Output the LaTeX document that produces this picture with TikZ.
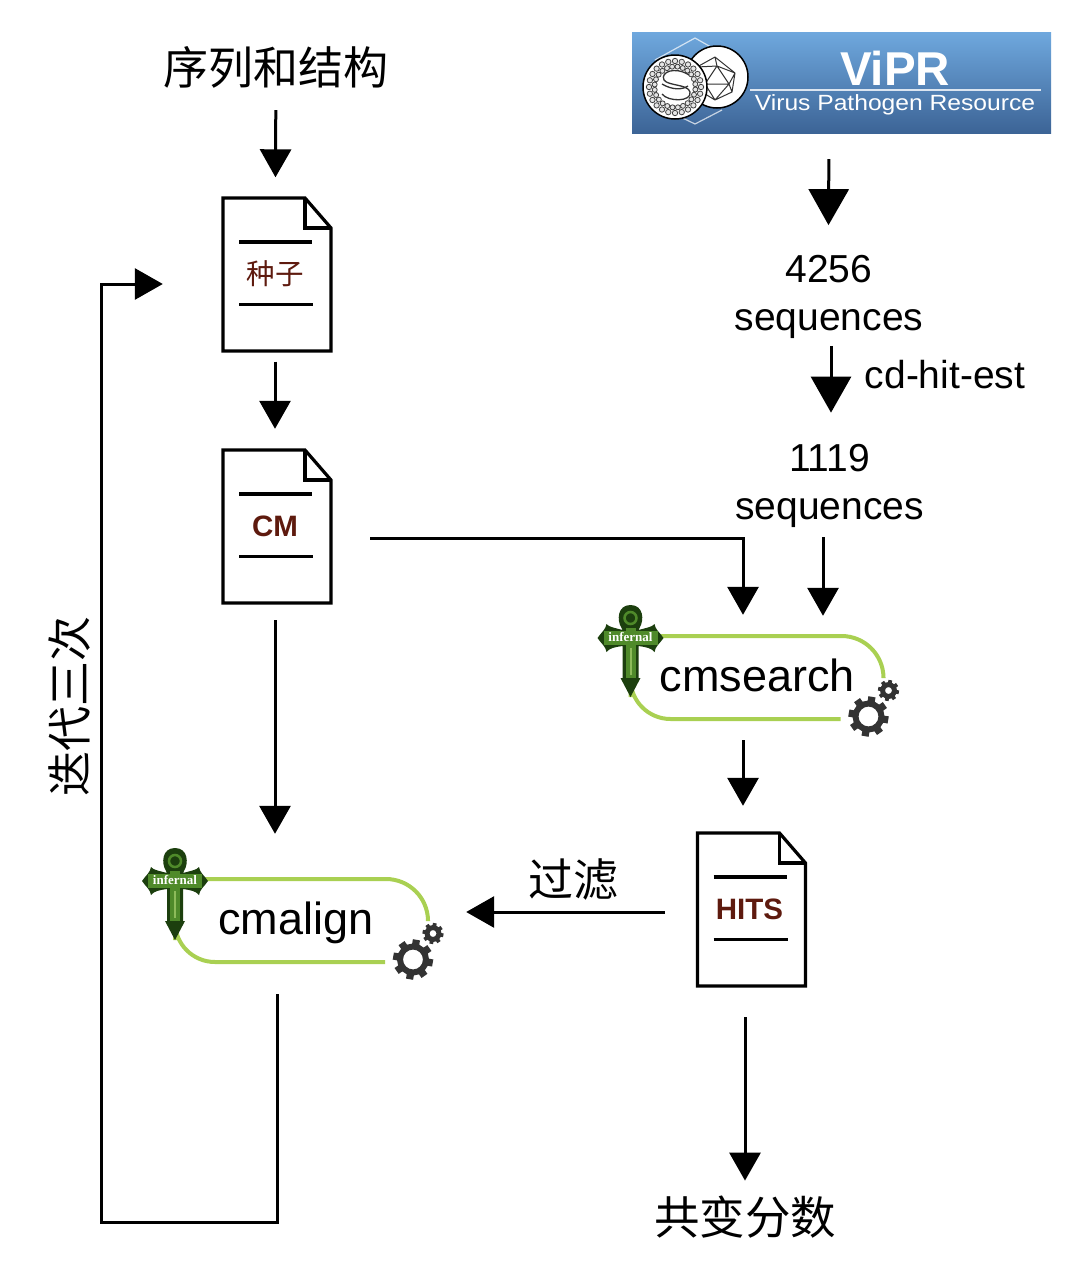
\documentclass[tikz,border=0pt]{standalone}
\usepackage{fontspec}
\setmainfont{Liberation Sans}
\newfontfamily\cjk{Noto Sans CJK SC}
\newfontfamily\serifsmall{Liberation Serif}
\usetikzlibrary{arrows.meta,positioning,calc}

\definecolor{seedred}{HTML}{5E1A0E}
\definecolor{toolgreen}{HTML}{A9D052}
\definecolor{gearcol}{HTML}{333333}
\definecolor{crossdark}{HTML}{1C3F0E}
\definecolor{crossmid}{HTML}{4F8A2A}
\definecolor{crosslight}{HTML}{8DBB5A}
\definecolor{viprtop}{HTML}{6FA8DE}
\definecolor{viprbot}{HTML}{3C6496}

\tikzset{
  flow/.style={->,line width=3pt},
  bigflow/.style={-{Triangle[length=36pt,width=40pt]},line width=3pt},
  plain/.style={inner sep=0pt,font=\fontsize{39}{48}\selectfont,align=center},
  zhtext/.style={inner sep=0pt,font=\cjk\fontsize{45}{48}\selectfont},
  docbox/.style={inner sep=0pt,minimum width=104pt,minimum height=153pt,text=seedred,font=\bfseries\fontsize{29.5}{32}\selectfont},
  toolbox/.style={inner sep=0pt,minimum width=253pt,minimum height=84pt,text height=33pt,text depth=6pt,font=\fontsize{45}{48}\selectfont},
  pics/docpage/.style={code={
    \draw[line width=3.2pt,fill=white,line join=miter] (-52,-76.5) -- (30,-76.5) -- (56,-46.5) -- (56,76.5) -- (-52,76.5) -- cycle;
    \draw[line width=3.2pt] (30,-76.5) -- (30,-46.5) -- (56,-46.5);
    \draw[line width=3.2pt] (-36,-32.5) -- (37,-32.5);
    \draw[line width=3.2pt] (-36,30) -- (38,30);
  }},
  pics/gearwheel/.style 2 args={code={
    \foreach \a in {0,45,...,315}
      \draw[gearcol,line width=#1*0.36pt] (\a+10:#1*0.65) -- (\a+10:#1);
    \draw[gearcol,line width=#2pt] (0,0) circle[radius=#1*0.8pt-#2*0.5pt];
  }},
  pics/toolframe/.style={code={
    \draw[toolgreen,line width=4pt,rounded corners=42pt] (-97,-42) -- (126,-42) -- (126,-1);
    \draw[toolgreen,line width=4pt,rounded corners=40pt] (-127,19) -- (-127,41) -- (83,41);
    % cross
    \fill[crossdark] (-127,-73) .. controls (-140,-73) and (-141,-58) .. (-136,-50) -- (-135,-48)
      .. controls (-142,-50) and (-149,-51) .. (-151,-54) .. controls (-152,-48) and (-156,-46) .. (-160,-40)
      .. controls (-156,-34) and (-152,-32) .. (-151,-26) .. controls (-148,-30) and (-142,-31) .. (-135,-32)
      -- (-135,0) -- (-137,0) -- (-127,19) -- (-117,0) -- (-119,0) -- (-119,-32)
      .. controls (-112,-31) and (-106,-30) .. (-103,-26) .. controls (-102,-32) and (-98,-34) .. (-94,-40)
      .. controls (-98,-46) and (-102,-48) .. (-103,-54) .. controls (-105,-51) and (-112,-50) .. (-119,-48)
      -- (-118,-50) .. controls (-113,-58) and (-114,-73) .. (-127,-73) -- cycle;
    \fill[crossmid] (-132,-50) -- (-132,0) -- (-122,0) -- (-122,-50) -- cycle;
    \fill[crossmid] (-154,-47) -- (-100,-47) -- (-100,-33) -- (-154,-33) -- cycle;
    \fill[crosslight] (-128,-30) -- (-128,-3) -- (-126,-3) -- (-126,-30) -- cycle;
    \draw[crossmid,line width=2.5pt] (-127,-60) circle[radius=6pt];
    \node[inner sep=0pt,text=white,font=\serifsmall\bfseries\fontsize{13}{14}\selectfont] (infernal) at (-127,-41) {infernal};
    % gears
    \pic at (111,38.5) {gearwheel={20}{6}};
    \pic at (131,12.5) {gearwheel={10.5}{5}};
  }},
}

\begin{document}
\begin{tikzpicture}[x=1pt,y=-1pt,>={Triangle[length=28pt,width=31pt]}]
  \useasboundingbox (0,0) rectangle (1068,1264);

  % left column
  \node[zhtext] (seqstruct) at (276,67) {序列和结构};
  \pic at (275,274.5) {docpage};
  \node[docbox,font=\cjk\fontsize{28.5}{30}\selectfont] (seeddoc) at (275,274) {种子};
  \pic at (275,526.5) {docpage};
  \node[docbox] (cmdoc) at (275,526.5) {CM};
  \pic at (302,921) {toolframe};
  \node[toolbox,xshift=-6pt] (cmalign) at (302,921) {cmalign};

  % right column
  \node[minimum width=419pt,minimum height=101pt,inner sep=0pt,top color=viprtop,bottom color=viprbot] (vipr) at (841.5,82.5) {};
  \draw[white,opacity=.7,line width=1.2pt] (695,38) -- (655,60) (695,38) -- (725,55) (695,124) -- (670,112) (695,124) -- (722,110);
  \draw[line width=1.5pt,fill=white] (717,77) circle[radius=31pt];
  \draw[black!80,line width=1pt,line join=round] (715,57) -- (735,73) -- (732,92) -- (715,100) -- (697,89) -- (697,67) -- cycle
    (717,66) -- (729,84) -- (705,84) -- cycle
    (715,57) -- (717,66) -- (697,67) (717,66) -- (735,73) (729,84) -- (735,73) (729,84) -- (732,92) (729,84) -- (715,100) (705,84) -- (715,100) (705,84) -- (697,89) (705,84) -- (697,67);
  \draw[line width=1.5pt,fill=white] (675,87) circle[radius=32pt];
  \foreach \a in {0,15,...,345} \draw[black!75,line width=.8pt,fill=black!10] (675,87) ++(\a:26) circle[radius=2.7pt];
  \foreach \a in {7,22,...,352} \draw[black!75,line width=.8pt,fill=black!10] (675,87) ++(\a:20.5) circle[radius=2.5pt];
  \draw[black!80,line width=1.3pt] (689,75) .. controls (675,66) and (660,72) .. (664,80) .. controls (668,86) and (688,84) .. (690,92) .. controls (692,102) and (668,102) .. (662,94);
  \draw[black!80,line width=1.3pt] (662,84) .. controls (672,90) and (682,90) .. (688,86);
  \node[inner sep=0pt,anchor=base,text=white,font=\bfseries\fontsize{47.5}{50}\selectfont] (vipname) at (895,85) {ViPR};
  \draw[white,opacity=.8,line width=1.5pt] (750,90) -- (1041,90);
  \node[inner sep=0pt,anchor=base,xscale=1.12,text=white,font=\fontsize{22}{24}\selectfont] (vipsub) at (895,110.5) {Virus Pathogen Resource};

  \node[plain] (seqsall) at (829,297) {4256\\sequences};
  \node[plain] (seqsnr) at (829.5,485.5) {1119\\sequences};
  \node[plain,font=\fontsize{39}{40}\selectfont] (cdhit) at (945,375) {cd-hit-est};
  \pic at (757.5,678) {toolframe};
  \node[toolbox] (cmsearch) at (757.5,678) {cmsearch};
  \pic at (749.5,909.5) {docpage};
  \node[docbox] (hitsdoc) at (749.5,909.5) {HITS};
  \node[zhtext] (filterlabel) at (573,880) {过滤};
  \node[zhtext,font=\cjk\fontsize{45.5}{48}\selectfont] (covscore) at (745,1217) {共变分数};
  \node[zhtext,rotate=90] (iterlabel) at (69,706) {迭代三次};
  \coordinate (loopcorner) at (101,1222);

  % connectors
  \draw[flow,shorten <=22pt,shorten >=20pt] (seqstruct) -- (seeddoc);
  \draw[flow,shorten <=11pt,shorten >=21pt] (seeddoc) -- (cmdoc);
  \draw[flow,shorten <=17pt,shorten >=45pt] (cmdoc.south) -- (cmdoc.south |- cmalign.north);
  \draw[bigflow,shorten <=26pt] ([xshift=-12.5pt]vipr.south) -- ([xshift=-0.5pt,yshift=30pt]seqsall.north);
  \draw[bigflow,shorten <=7pt,shorten >=31pt] ([xshift=2pt]seqsall.south) -- ([xshift=1.5pt]seqsnr.north);
  \draw[flow,shorten <=20pt,shorten >=21pt] ([yshift=-11.5pt]cmdoc.east) ++(23pt,0) -| ([xshift=-14.5pt]cmsearch.north);
  \draw[flow,shorten <=10pt,shorten >=20pt] ([xshift=-6.5pt]seqsnr.south) -- ([xshift=65.5pt]cmsearch.north);
  \draw[flow,shorten <=20pt,shorten >=27pt] ([xshift=-14.5pt]cmsearch.south) -- ([xshift=-6.5pt]hitsdoc.north);
  \draw[flow,shorten <=32.5pt,shorten >=43.5pt] ([yshift=-2.5pt]hitsdoc.west) -- ([yshift=-2.5pt]hitsdoc.west -| cmalign.east);
  \draw[flow,shorten <=31pt,shorten >=15pt] ([xshift=-4.5pt]hitsdoc.south) -- (covscore.north);
  \draw[flow,shorten <=31pt,shorten >=60pt] ([xshift=-19pt]cmalign.south) |- (loopcorner) |- ([yshift=-10pt]seeddoc.west);
\end{tikzpicture}
\end{document}
